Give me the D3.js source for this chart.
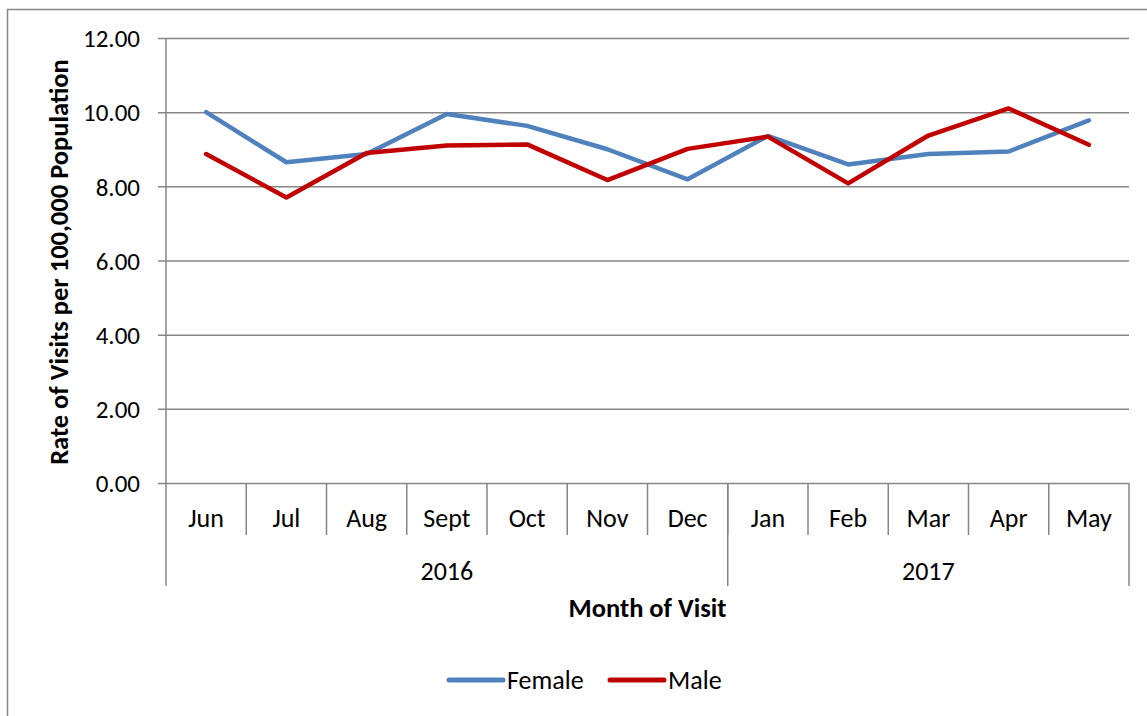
<!DOCTYPE html>
<html lang="en">
<meta charset="utf-8">
<head>
<script src="https://d3js.org/d3.v7.min.js"></script>
<style>
  body { margin: 0; background: #fff; }
  text { font-family: Carlito, Lato, "Open Sans", sans-serif; fill: #000; }
</style>
</head>
<body>
<div id="chart"></div>
<script>

// data
var months = ['Jun','Jul','Aug','Sept','Oct','Nov','Dec','Jan','Feb','Mar','Apr','May']
var years = [{label: '2016', from: 0, to: 7}, {label: '2017', from: 7, to: 12}]
var female = [10.00, 8.65, 8.87, 9.95, 9.63, 9.00, 8.19, 9.36, 8.59, 8.87, 8.94, 9.78]
var male = [8.87, 7.70, 8.90, 9.10, 9.13, 8.17, 9.01, 9.34, 8.08, 9.37, 10.10, 9.12]
var yTicks = [0, 2, 4, 6, 8, 10, 12]

var W = 1147, H = 716
var margin = {top: 38, left: 166, right: 1129, bottom: 483}
var axisGrey = '#868686'

var svg = d3.select('#chart').append('svg')
  .attr('width', W).attr('height', H)

// outer chart border
svg.append('rect')
  .attr('x', 7.5).attr('y', 9.5)
  .attr('width', W + 10).attr('height', H + 10)
  .attr('fill', 'none').attr('stroke', axisGrey).attr('stroke-width', 1.5)

var x = d3.scaleBand().domain(d3.range(months.length))
  .range([margin.left, margin.right]).padding(0)
var y = d3.scaleLinear().domain([0, 12]).range([margin.bottom, margin.top])

// gridlines + y labels
var yAxis = svg.append('g')
  .attr('transform', 'translate(' + margin.left + ',0)')
  .call(d3.axisLeft(y).tickValues(yTicks)
    .tickSize(-(margin.right - margin.left))
    .tickFormat(d3.format('.2f')))
yAxis.select('.domain').remove()
yAxis.selectAll('.tick line')
  .attr('x1', -8)
  .attr('stroke', axisGrey).attr('stroke-width', 1.5)
yAxis.selectAll('.tick text')
  .attr('x', -26).attr('dy', '0.35em')
  .style('font-size', '25px')

// left axis line down to the year row
svg.append('line')
  .attr('x1', margin.left).attr('x2', margin.left)
  .attr('y1', margin.top).attr('y2', 586)
  .attr('stroke', axisGrey).attr('stroke-width', 1.5)

// month separators
svg.selectAll('.msep')
  .data(d3.range(1, months.length))
  .enter().append('line')
  .attr('class', 'msep')
  .attr('x1', d => x(d)).attr('x2', d => x(d))
  .attr('y1', margin.bottom).attr('y2', 535)
  .attr('stroke', axisGrey).attr('stroke-width', 1.5)

// year separators
svg.selectAll('.ysep')
  .data(years.map(d => d.to))
  .enter().append('line')
  .attr('class', 'ysep')
  .attr('x1', d => d >= months.length ? margin.right : x(d))
  .attr('x2', d => d >= months.length ? margin.right : x(d))
  .attr('y1', margin.bottom).attr('y2', 586)
  .attr('stroke', axisGrey).attr('stroke-width', 1.5)

// month labels
svg.selectAll('.mlab')
  .data(months)
  .enter().append('text')
  .attr('class', 'mlab')
  .attr('x', (d, i) => x(i) + x.bandwidth() / 2)
  .attr('y', 518).attr('dy', '0.35em')
  .attr('text-anchor', 'middle')
  .style('font-size', '26px')
  .text(d => d)

// year labels
svg.selectAll('.ylab')
  .data(years)
  .enter().append('text')
  .attr('class', 'ylab')
  .attr('x', d => (x(d.from) + (d.to >= months.length ? margin.right : x(d.to))) / 2)
  .attr('y', 571).attr('dy', '0.35em')
  .attr('text-anchor', 'middle')
  .style('font-size', '26px')
  .text(d => d.label)

// axis titles
svg.append('text')
  .attr('x', (margin.left + margin.right) / 2).attr('y', 608).attr('dy', '0.35em')
  .attr('text-anchor', 'middle')
  .style('font-size', '26.5px').style('font-weight', 'bold')
  .text('Month of Visit')

svg.append('text')
  .attr('transform', 'translate(59,262) rotate(-90)')
  .attr('dy', '0.35em')
  .attr('text-anchor', 'middle')
  .style('font-size', '26.5px').style('font-weight', 'bold')
  .text('Rate of Visits per 100,000 Population')

// lines
var line = d3.line()
  .x((d, i) => x(i) + x.bandwidth() / 2)
  .y(d => y(d))

var series = [
  {name: 'Female', values: female, color: '#4F81BD'},
  {name: 'Male', values: male, color: '#C00000'}
]

svg.selectAll('.series')
  .data(series)
  .enter().append('path')
  .attr('class', 'series')
  .attr('d', d => line(d.values))
  .attr('fill', 'none')
  .attr('stroke', d => d.color)
  .attr('stroke-width', 4.5)
  .attr('stroke-linejoin', 'round')
  .attr('stroke-linecap', 'round')

// legend
var legendX = [449, 610]
var leg = svg.selectAll('.leg')
  .data(series)
  .enter().append('g')
  .attr('class', 'leg')
  .attr('transform', (d, i) => 'translate(' + legendX[i] + ',680)')
leg.append('line')
  .attr('x1', 0).attr('x2', 54)
  .attr('stroke', d => d.color).attr('stroke-width', 5)
  .attr('stroke-linecap', 'round')
leg.append('text')
  .attr('x', 58).attr('dy', '0.35em')
  .style('font-size', '26px')
  .text(d => d.name)

</script>
</body>
</html>
